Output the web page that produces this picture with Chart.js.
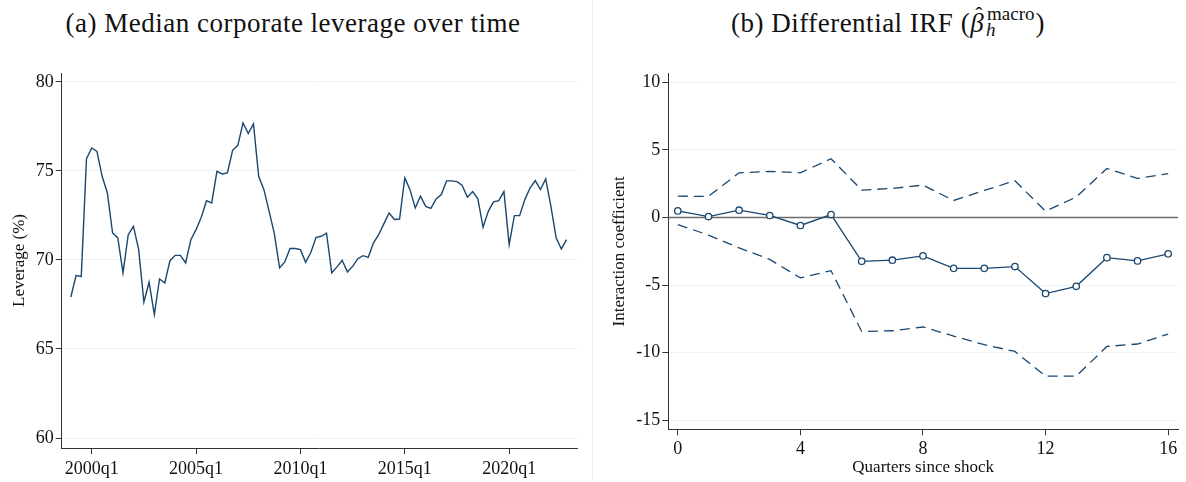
<!DOCTYPE html>
<html>
<head>
<meta charset="utf-8">
<script src="https://cdn.jsdelivr.net/npm/chart.js@4/dist/chart.umd.min.js"></script>
<style>
  body { margin: 0; background: #fff; width: 1186px; height: 482px; position: relative; overflow: hidden;
         font-family: "Liberation Serif", serif; color: #111; }
  .ttl { position: absolute; top: 10px; font-size: 27px; line-height: 27px; white-space: nowrap;
         transform: translateX(-50%); letter-spacing: 0.5px; }
  canvas { position: absolute; }
  .bh { position: relative; display: inline-block; }
  .hat { position: absolute; left: 5px; top: -9px; font-size: 22px; font-style: normal; }
  .ss { position: relative; display: inline-block; font-size: 19px; letter-spacing: 0; margin-left: 3px; margin-right: 1px; }
  .sp { position: relative; top: -12px; }
  .sb { position: absolute; left: -1px; top: 4px; font-style: italic; }
  .sep { position: absolute; left: 592px; top: 0; width: 1px; height: 482px; background: #eef2f4; }
</style>
</head>
<body>
<div class="ttl" style="left:293px">(a) Median corporate leverage over time</div>
<div class="ttl" style="left:888px">(b) Differential IRF (<span class="bh"><i>β</i><span class="hat">ˆ</span></span><span class="ss"><span class="sp">macro</span><span class="sb">h</span></span>)</div>
<div class="sep"></div>
<canvas id="lev" width="600" height="422" style="left:0;top:60px"></canvas>
<canvas id="irf" width="586" height="422" style="left:600px;top:60px"></canvas>
<script>
// panel (a): median leverage, quarterly 1999q1 - 2022q4
const firstYear = 1999;
const leverage = [
  67.92, 69.12, 69.08, 75.69, 76.29, 76.10, 74.70, 73.76, 71.52, 71.24,
  69.27, 71.42, 71.89, 70.58, 67.64, 68.75, 66.93, 68.93, 68.71, 69.96,
  70.26, 70.26, 69.83, 71.14, 71.70, 72.40, 73.33, 73.20, 74.98, 74.83,
  74.89, 76.16, 76.44, 77.70, 77.10, 77.64, 74.70, 73.95, 72.73, 71.48,
  69.55, 69.89, 70.64, 70.64, 70.58, 69.87, 70.43, 71.27, 71.33, 71.50,
  69.27, 69.61, 69.98, 69.33, 69.64, 70.07, 70.24, 70.15, 70.96, 71.42,
  72.04, 72.64, 72.27, 72.30, 74.61, 73.95, 72.92, 73.58, 73.01, 72.90,
  73.43, 73.67, 74.44, 74.44, 74.40, 74.19, 73.52, 73.84, 73.43, 71.84,
  72.73, 73.26, 73.33, 73.84, 70.86, 72.49, 72.49, 73.39, 74.04, 74.46,
  73.95, 74.55, 73.01, 71.24, 70.62, 71.14
];
const levTickLabels = ["2000q1", "2005q1", "2010q1", "2015q1", "2020q1"];
const levYTicks = [60, 65, 70, 75, 80];

// panel (b): differential IRF
const horizons = [0, 1, 2, 3, 4, 5, 6, 7, 8, 9, 10, 11, 12, 13, 14, 15, 16];
const beta = [0.49, 0.07, 0.54, 0.15, -0.59, 0.22, -3.24, -3.16, -2.84, -3.76, -3.76, -3.63, -5.63, -5.09, -2.97, -3.21, -2.69];
const ciUpper = [1.58, 1.56, 3.31, 3.41, 3.31, 4.35, 2.03, 2.15, 2.40, 1.26, 2.00, 2.72, 0.47, 1.51, 3.63, 2.89, 3.24];
const ciLower = [-0.52, -1.30, -2.25, -3.10, -4.47, -3.93, -8.43, -8.38, -8.10, -8.77, -9.41, -9.91, -11.74, -11.74, -9.54, -9.36, -8.62];
const irfXTicks = [0, 4, 8, 12, 16];
const irfYTicks = [-15, -10, -5, 0, 5, 10];

const navy = "#1a476f";
const gridCol = "#eaf2f3";
const axisCol = "#333";

Chart.defaults.font.family = "'Liberation Serif', serif";
Chart.defaults.color = "#111";
Chart.defaults.animation = false;

// quarter names for the x axis
const quarters = [];
for (let i = 0; i < leverage.length; i++) {
  quarters.push((firstYear + Math.floor(i / 4)) + "q" + (i % 4 + 1));
}

function setTicks(values) {
  return s => { s.ticks = values.map(v => ({ value: v })); };
}

new Chart(document.getElementById("lev"), {
  type: "line",
  data: {
    datasets: [{
      data: leverage.map((v, i) => ({ x: i, y: v })),
      borderColor: navy,
      borderWidth: 1.4,
      pointRadius: 0,
      tension: 0
    }]
  },
  options: {
    responsive: false,
    layout: { padding: { top: 13, right: 23, left: 0, bottom: 0 } },
    plugins: { legend: { display: false }, tooltip: { enabled: false } },
    scales: {
      x: {
        type: "linear", min: -1.75, max: 97,
        afterBuildTicks: setTicks(levTickLabels.map(l => quarters.indexOf(l))),
        afterFit: s => { s.height = 34; },
        ticks: { callback: (v, i) => levTickLabels[i], font: { size: 18 }, padding: 4, maxRotation: 0, color: "#111" },
        grid: { drawOnChartArea: false, tickLength: 6, tickColor: axisCol },
        border: { color: axisCol, width: 1 }
      },
      y: {
        min: 59.44, max: 80.5,
        afterBuildTicks: setTicks(levYTicks),
        afterFit: s => { s.width = 61.7; },
        ticks: { font: { size: 18 }, padding: 2, color: "#111" },
        grid: { color: gridCol, tickLength: 6, tickColor: axisCol },
        border: { color: axisCol, width: 1 },
        title: { display: true, text: "Leverage (%)", font: { size: 17 }, padding: { top: 9 } }
      }
    }
  }
});

const zeroLine = {
  id: "zeroLine",
  beforeDatasetsDraw(chart) {
    const { ctx, chartArea, scales } = chart;
    const y = scales.y.getPixelForValue(0);
    ctx.save();
    ctx.strokeStyle = "#6e6e6e";
    ctx.lineWidth = 1.5;
    ctx.beginPath();
    ctx.moveTo(chartArea.left, y);
    ctx.lineTo(chartArea.right, y);
    ctx.stroke();
    ctx.restore();
  }
};

const dashed = vals => ({
  data: vals.map((v, i) => ({ x: horizons[i], y: v })),
  borderColor: navy, borderWidth: 1.3, borderDash: [10, 6],
  pointRadius: 0, tension: 0
});

new Chart(document.getElementById("irf"), {
  type: "line",
  data: {
    datasets: [
      dashed(ciUpper),
      dashed(ciLower),
      {
        data: beta.map((v, i) => ({ x: horizons[i], y: v })),
        borderColor: navy, borderWidth: 1.3,
        pointRadius: 3.2, pointBorderWidth: 1.3,
        pointBorderColor: navy, pointBackgroundColor: "#fff",
        tension: 0
      }
    ]
  },
  options: {
    responsive: false,
    layout: { padding: { top: 13.3, right: 8, left: 0, bottom: 0 } },
    plugins: { legend: { display: false }, tooltip: { enabled: false } },
    scales: {
      x: {
        type: "linear", min: -0.31, max: 16.32,
        afterBuildTicks: setTicks(irfXTicks),
        afterFit: s => { s.height = 52.7; },
        ticks: { font: { size: 18 }, padding: 3, maxRotation: 0, color: "#111" },
        grid: { drawOnChartArea: false, tickLength: 6, tickColor: axisCol },
        border: { color: axisCol, width: 1 },
        title: { display: true, text: "Quarters since shock", font: { size: 17 }, padding: { bottom: 4 } }
      },
      y: {
        min: -15.67, max: 10.67,
        afterBuildTicks: setTicks(irfYTicks),
        afterFit: s => { s.width = 68.3; },
        ticks: { font: { size: 18 }, padding: 2, color: "#111" },
        grid: { color: gridCol, tickLength: 6, tickColor: axisCol },
        border: { color: axisCol, width: 1 },
        title: { display: true, text: "Interaction coefficient", font: { size: 17 }, padding: { top: 9 } }
      }
    }
  },
  plugins: [zeroLine]
});
</script>
</body>
</html>
